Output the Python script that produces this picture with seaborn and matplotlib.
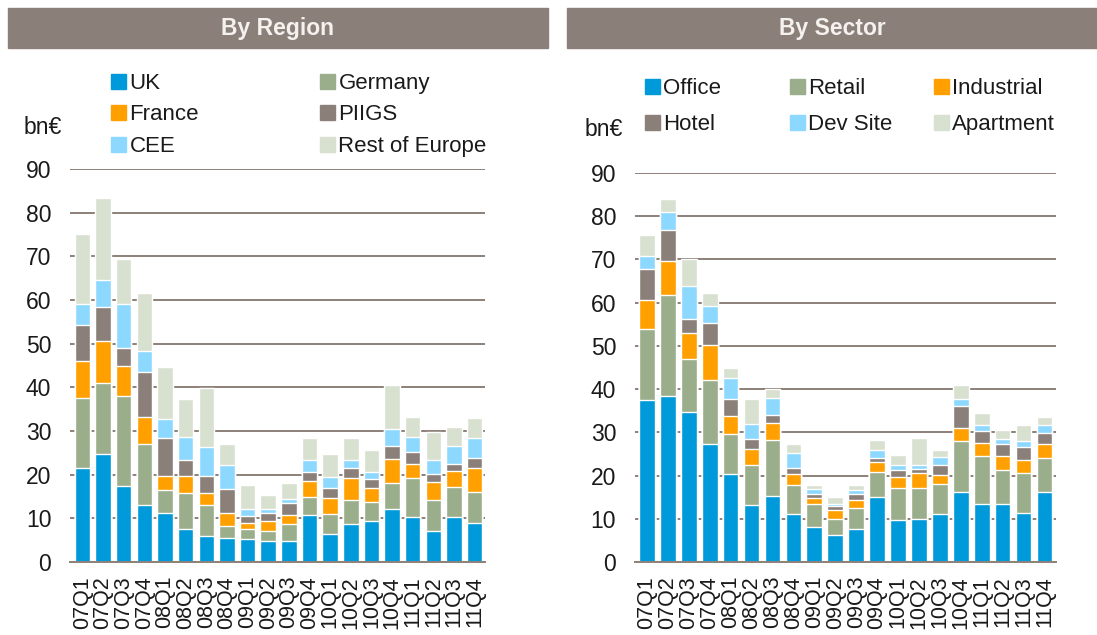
import numpy as np
import pandas as pd
import seaborn as sns
import matplotlib.pyplot as plt
from matplotlib.patches import Rectangle, Patch

quarters = ['07Q1', '07Q2', '07Q3', '07Q4', '08Q1', '08Q2', '08Q3', '08Q4',
            '09Q1', '09Q2', '09Q3', '09Q4', '10Q1', '10Q2', '10Q3', '10Q4',
            '11Q1', '11Q2', '11Q3', '11Q4']

# by region, bn EUR
uk = [21.6, 24.8, 17.3, 13.1, 11.3, 7.5, 6.0, 5.5, 5.2, 4.7, 4.7, 10.8, 6.4, 8.8, 9.5, 12.2, 10.3, 7.1, 10.3, 8.9]
germany = [16.0, 16.2, 20.7, 13.9, 5.1, 8.2, 7.1, 2.7, 2.4, 2.3, 3.9, 4.1, 4.7, 5.3, 4.2, 5.9, 9.0, 7.2, 6.9, 7.1]
france = [8.5, 9.5, 6.9, 6.1, 3.4, 3.9, 2.6, 3.0, 1.3, 2.3, 2.1, 3.6, 3.6, 5.2, 3.2, 5.4, 3.2, 4.0, 3.6, 5.6]
piigs = [8.1, 8.0, 4.2, 10.4, 8.6, 3.8, 3.9, 5.6, 1.6, 2.0, 2.8, 2.0, 2.2, 2.2, 2.0, 3.0, 2.8, 1.9, 1.7, 2.2]
cee = [4.8, 6.0, 9.9, 4.8, 4.3, 5.3, 6.7, 5.3, 1.7, 0.9, 1.0, 2.9, 2.6, 1.9, 1.7, 4.0, 3.3, 3.2, 4.1, 4.7]
rest_of_europe = [16.1, 18.9, 10.3, 13.4, 11.9, 8.6, 13.6, 4.9, 5.5, 3.1, 3.7, 5.0, 5.3, 5.1, 5.1, 10.1, 4.6, 6.3, 4.3, 4.5]

# by sector, bn EUR
office = [37.4, 38.4, 34.6, 27.4, 20.3, 13.3, 15.2, 11.0, 8.0, 6.2, 7.7, 15.0, 9.7, 9.9, 11.0, 16.2, 13.4, 13.4, 11.4, 16.2]
retail = [16.4, 23.3, 12.3, 14.7, 9.2, 9.1, 13.0, 6.8, 5.4, 3.8, 4.7, 5.8, 7.4, 7.2, 7.1, 11.7, 11.1, 7.8, 9.3, 7.9]
industrial = [6.8, 8.0, 6.0, 8.0, 4.2, 3.8, 4.0, 2.5, 1.4, 2.0, 1.9, 2.3, 2.6, 3.4, 2.0, 3.2, 3.1, 3.3, 2.8, 3.3]
hotel = [7.1, 7.1, 3.4, 5.2, 4.0, 2.2, 1.8, 1.5, 1.0, 1.0, 1.4, 1.0, 1.5, 1.1, 2.3, 4.9, 2.7, 2.9, 3.1, 2.5]
dev_site = [3.1, 4.2, 7.5, 3.9, 4.9, 3.5, 4.0, 3.4, 1.0, 0.5, 0.9, 1.9, 1.3, 0.8, 1.8, 1.8, 1.3, 1.1, 1.3, 1.9]
apartment = [4.8, 2.9, 6.2, 3.1, 2.4, 5.7, 2.0, 2.0, 1.1, 1.5, 1.3, 2.3, 2.2, 6.2, 1.7, 3.1, 2.8, 2.1, 3.7, 1.8]

region_names = ['UK', 'Germany', 'France', 'PIIGS', 'CEE', 'Rest of Europe']
sector_names = ['Office', 'Retail', 'Industrial', 'Hotel', 'Dev Site', 'Apartment']

# legend entries in the order they fill the grid, column by column
region_order = ['UK', 'France', 'CEE', 'Germany', 'PIIGS', 'Rest of Europe']
sector_order = ['Office', 'Hotel', 'Retail', 'Dev Site', 'Industrial', 'Apartment']

colors = ['#0099da', '#9bae8c', '#ffa000', '#8b7f79', '#8dd8ff', '#d8e0d0']
grid_col = '#8c8079'
text_col = '#1a1a1a'

W, H = 1097, 635

sns.set_style('white')
plt.rcParams['font.family'] = ['Liberation Sans', 'DejaVu Sans']


def stacked_bars(ax, series, names, xlim):
    df = pd.DataFrame(dict(zip(names, series)), index=quarters)
    cum = df.cumsum(axis=1)
    # draw the tallest cumulative first, smaller ones on top
    for name, c in zip(names[::-1], colors[::-1]):
        sns.barplot(x=list(df.index), y=cum[name].values, color=c, saturation=1,
                    width=0.75, ax=ax, zorder=2)

    ax.set_ylim(0, 90)
    ax.set_xlim(*xlim)
    ax.set_yticks(np.arange(0, 91, 10))
    ax.yaxis.grid(True, color=grid_col, lw=1.4)
    ax.set_axisbelow(True)
    sns.despine(ax=ax, top=True, right=True, left=True)
    ax.spines['bottom'].set_color(grid_col)
    ax.spines['bottom'].set_linewidth(1.4)

    ax.set_xticks(np.arange(len(quarters)))
    ax.set_xticklabels(quarters, rotation=90, fontsize=15.5, color=text_col)
    ax.tick_params(axis='x', which='major', length=0, pad=10)
    ax.set_xticks(np.arange(-0.5, len(quarters), 1), minor=True)
    ax.tick_params(axis='x', which='minor', length=6, width=1.3, color=grid_col, direction='out')
    ax.tick_params(axis='y', length=0, labelsize=16.5, labelcolor=text_col, pad=13.5)
    ax.set_xlabel('')
    ax.set_ylabel('')


def legend_block(fig, order, all_names, cols_x, rows_y):
    # one small legend per entry so the columns sit where they do in the original
    k = 0
    for x in cols_x:
        for y in rows_y:
            n = order[k]
            k += 1
            fig.legend(handles=[Patch(color=colors[all_names.index(n)], label=n)], loc='center left',
                       bbox_to_anchor=(x / W, 1 - y / H), bbox_transform=fig.transFigure,
                       frameon=False, fontsize=16, handlelength=0.68, handleheight=0.64,
                       handletextpad=0.15, borderpad=0, borderaxespad=0, labelcolor=text_col)


fig = plt.figure(figsize=(W / 100, H / 100), dpi=100)

ax1 = fig.add_axes([70 / W, 73 / H, 415 / W, 393 / H])
ax2 = fig.add_axes([635 / W, 73 / H, 421 / W, 389 / H])

stacked_bars(ax1, [uk, germany, france, piigs, cee, rest_of_europe], region_names, (-0.6, 19.46))
stacked_bars(ax2, [office, retail, industrial, hotel, dev_site, apartment], sector_names, (-0.57, 19.55))

legend_block(fig, region_order, region_names, [111, 320], [83.5, 115, 146.5])
legend_block(fig, sector_order, sector_names, [645, 790, 934], [88.5, 124.5])

# header bands
for x0, x1, title in [(8, 548, 'By Region'), (567, 1097, 'By Sector')]:
    fig.patches.append(Rectangle((x0 / W, 1 - 48 / H), (x1 - x0) / W, 40 / H,
                                 transform=fig.transFigure, color='#8b7f79', zorder=0))
    fig.text((x0 + x1) / 2 / W, 1 - 28 / H, title, ha='center', va='center',
             fontsize=16.5, fontweight='bold', color='#f4f1ee')

fig.text(24 / W, 1 - 128 / H, 'bn€', ha='left', va='center', fontsize=16.5, color=text_col)
fig.text(585 / W, 1 - 130 / H, 'bn€', ha='left', va='center', fontsize=16.5, color=text_col)

fig.savefig('out.png', dpi=100, facecolor='white')
